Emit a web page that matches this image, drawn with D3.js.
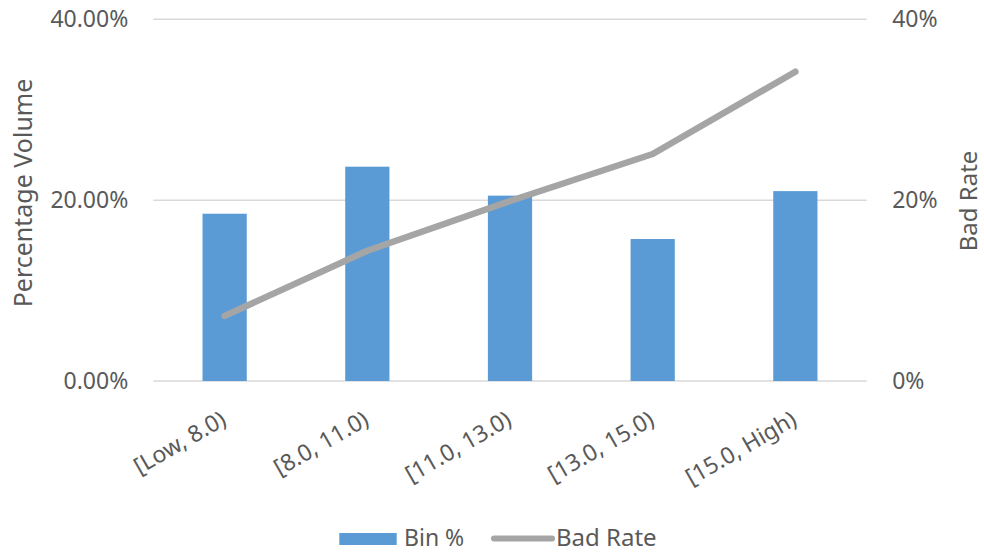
<!DOCTYPE html>
<html>
<head>
<meta charset="utf-8">
<script src="https://cdn.jsdelivr.net/npm/d3@7"></script>
<style>
  html, body { margin: 0; padding: 0; background: #ffffff; }
  svg { display: block; }
  text { font-family: "Noto Sans", "Open Sans", sans-serif; fill: #595959; }
</style>
</head>
<body>
<svg id="chart" width="984" height="552"></svg>
<script>
// Score bins along the category axis
const categories = ["[Low, 8.0)", "[8.0, 11.0)", "[11.0, 13.0)", "[13.0, 15.0)", "[15.0, High)"];
// Share of accounts in each bin (left axis)
const binPct = [0.185, 0.237, 0.205, 0.157, 0.210];
// Bad rate per bin (right axis)
const badRate = [0.072, 0.144, 0.199, 0.251, 0.342];
// Tick values and their labels
const leftTicks = [0, 0.2, 0.4];
const rightTicks = [0, 0.2, 0.4];

const svg = d3.select("#chart");
const plot = { left: 153.3, right: 866.7, top: 19.3, bottom: 381 };

const x = d3.scaleBand()
  .domain(categories)
  .range([plot.left, plot.right])
  .paddingInner(0.69)
  .paddingOuter(0.345);

const yLeft = d3.scaleLinear().domain([0, 0.4]).range([plot.bottom, plot.top]);
const yRight = d3.scaleLinear().domain([0, 0.4]).range([plot.bottom, plot.top]);

const pctLeft = d3.format(".2%");
const pctRight = d3.format(".0%");

// Horizontal gridlines
svg.append("g")
  .selectAll("line")
  .data(leftTicks)
  .join("line")
  .attr("x1", plot.left)
  .attr("x2", plot.right)
  .attr("y1", d => yLeft(d))
  .attr("y2", d => yLeft(d))
  .attr("stroke", "#d9d9d9")
  .attr("stroke-width", 1.5);

// Left axis labels
const leftAxis = d3.axisLeft(yLeft).tickValues(leftTicks).tickFormat(pctLeft).tickSize(0).tickPadding(25);
const gL = svg.append("g").attr("transform", `translate(${plot.left},0)`).call(leftAxis);
gL.select(".domain").remove();
gL.selectAll("text").attr("font-size", 23).attr("fill", "#595959")
  .style("font-family", "'Noto Sans', sans-serif");

// Right axis labels
const rightAxis = d3.axisRight(yRight).tickValues(rightTicks).tickFormat(pctRight).tickSize(0).tickPadding(25.5);
const gR = svg.append("g").attr("transform", `translate(${plot.right},0)`).call(rightAxis);
gR.select(".domain").remove();
gR.selectAll("text").attr("font-size", 23).attr("fill", "#595959")
  .style("font-family", "'Noto Sans', sans-serif");

// Bars: bin share
svg.append("g")
  .selectAll("rect")
  .data(categories.map((c, i) => ({ c, v: binPct[i] })))
  .join("rect")
  .attr("x", d => x(d.c))
  .attr("width", x.bandwidth())
  .attr("y", d => yLeft(d.v))
  .attr("height", d => yLeft(0) - yLeft(d.v))
  .attr("fill", "#5b9bd5");

// Line: bad rate
const line = d3.line()
  .x((d, i) => x(categories[i]) + x.bandwidth() / 2)
  .y(d => yRight(d));

svg.append("path")
  .datum(badRate)
  .attr("d", line)
  .attr("fill", "none")
  .attr("stroke", "#a5a5a5")
  .attr("stroke-width", 6.5)
  .attr("stroke-linecap", "round")
  .attr("stroke-linejoin", "round");

// Rotated category labels
svg.append("g")
  .selectAll("text")
  .data(categories)
  .join("text")
  .attr("transform", d => `translate(${x(d) + x.bandwidth() / 2 + 3},${plot.bottom + 43}) rotate(-30)`)
  .attr("text-anchor", "end")
  .attr("font-size", 23)
  .text(d => d);

// Axis titles
svg.append("text")
  .attr("transform", `translate(32,193) rotate(-90)`)
  .attr("text-anchor", "middle")
  .attr("font-size", 25)
  .text("Percentage Volume");

svg.append("text")
  .attr("transform", `translate(977,201) rotate(-90)`)
  .attr("text-anchor", "middle")
  .attr("font-size", 24)
  .text("Bad Rate");

// Legend
const legend = svg.append("g");
legend.append("rect")
  .attr("x", 339.3).attr("y", 533).attr("width", 57.4).attr("height", 12)
  .attr("fill", "#5b9bd5");
legend.append("text")
  .attr("x", 404).attr("y", 545.5)
  .attr("font-size", 23)
  .text("Bin %");
legend.append("line")
  .attr("x1", 494).attr("x2", 552).attr("y1", 538.5).attr("y2", 538.5)
  .attr("stroke", "#a5a5a5").attr("stroke-width", 6).attr("stroke-linecap", "round");
legend.append("text")
  .attr("x", 556).attr("y", 545.5)
  .attr("font-size", 24)
  .text("Bad Rate");
</script>
</body>
</html>
